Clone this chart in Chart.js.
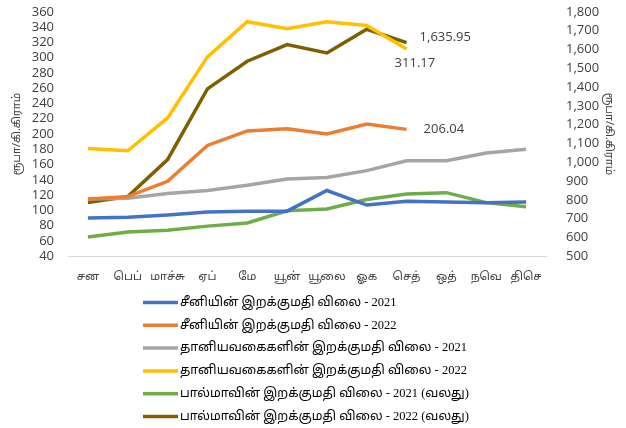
<!DOCTYPE html>
<html><head><meta charset="utf-8">
<script src="https://cdn.jsdelivr.net/npm/chart.js@4/dist/chart.umd.min.js"></script>
<style>html,body{margin:0;padding:0;background:#fff;overflow:hidden}#wrap{width:626px;height:428px;position:relative;overflow:hidden}#c{position:absolute;left:0;top:-8px}</style>
</head><body><div id="wrap"><canvas id="c" width="626" height="436"></canvas></div>
<script>
const months = ['சன','பெப்','மாச்சு','ஏப்','மே','யூன்','யூலை','ஓக','செத்','ஒத்','நவெ','திசெ'];
const sugar2021 = [90,91,94,98,99,99,126,107,112,111,110,111];
const sugar2022 = [115,118,138,185,204,207,200,213,206.04,null,null,null];
const cereal2021 = [115,116,122,126,133,141,143,152,165,165,175,180];
const cereal2022 = [181,178,221,301,347,338,347,342,311.17,null,null,null];
const palm2021 = [602,629,638,660,677,742,751,802,831,838,785,763];
const palm2022 = [786,817,1014,1390,1537,1626,1581,1707,1635.95,null,null,null];
const leftTicks = {min:40,max:360,step:20};
const rightTicks = {min:500,max:1800,step:100};
const labels = ['சீனியின் இறக்குமதி விலை - 2021','சீனியின் இறக்குமதி விலை - 2022','தானியவகைகளின் இறக்குமதி விலை - 2021','தானியவகைகளின் இறக்குமதி விலை - 2022','பால்மாவின் இறக்குமதி விலை - 2021 (வலது)','பால்மாவின் இறக்குமதி விலை - 2022 (வலது)'];
const axisTitle = 'ரூபா/கி.கிராம்';
const colors = ['#4472C4','#ED7D31','#A5A5A5','#FFC000','#70AD47','#7F6000'];

const tamil = '"Noto Sans Tamil","Lohit Tamil","Latha"';
const tickFont = {family:'"Open Sans",'+tamil+', sans-serif', size:13};
const xFont = {family:'"Open Sans",'+tamil+', sans-serif', size:11.5};
const ds = (i,data,axis)=>({label:labels[i],data,yAxisID:axis,borderColor:colors[i],backgroundColor:colors[i],borderWidth:3.5,pointRadius:0,tension:0,fill:false,spanGaps:false});

const legendPlugin = {
  id:'customLegend',
  afterDraw(chart){
    const ctx = chart.ctx; ctx.save();
    chart.data.datasets.forEach((d,i)=>{
      const y = 310.5 + i*22.8;
      ctx.strokeStyle = d.borderColor; ctx.lineWidth = 3.5;
      ctx.beginPath(); ctx.moveTo(143,y); ctx.lineTo(178,y); ctx.stroke();
      ctx.fillStyle = '#000'; ctx.font = '12.5px "Liberation Serif",'+tamil+', serif';
      ctx.textBaseline = 'middle'; ctx.textAlign='left';
      ctx.fillText(d.label, 180, y);
    });
    ctx.restore();
  }
};
const valueLabels = [{ds:5,dx:13,dy:-5,align:'left'},{ds:3,dx:-12,dy:14,align:'left'},{ds:1,dx:17,dy:0,align:'left'}];
const labelPlugin = {
  id:'lastLabels',
  afterDatasetsDraw(chart){
    const ctx = chart.ctx; ctx.save();
    ctx.font = '13px "Open Sans", sans-serif'; ctx.fillStyle='#404040'; ctx.textBaseline='middle';
    valueLabels.forEach(l=>{
      const d = chart.data.datasets[l.ds].data; const idx = 8;
      const el = chart.getDatasetMeta(l.ds).data[idx];
      const v = d[idx];
      const txt = v.toLocaleString('en-US',{minimumFractionDigits:2,maximumFractionDigits:2});
      ctx.textAlign = l.align;
      ctx.fillText(txt, el.x + l.dx, el.y + l.dy);
    });
    ctx.restore();
  }
};

new Chart(document.getElementById('c'),{
  type:'line',
  data:{labels:months,datasets:[ds(0,sugar2021,'y'),ds(1,sugar2022,'y'),ds(2,cereal2021,'y'),ds(3,cereal2022,'y'),ds(4,palm2021,'y1'),ds(5,palm2022,'y1')]},
  options:{
    responsive:false,animation:false,
    layout:{padding:{top:0,bottom:138,left:10,right:10}},
    plugins:{legend:{display:false},tooltip:{enabled:false}},
    scales:{
      x:{offset:true,grid:{display:false},border:{display:true,color:'#D9D9D9',width:1},
         ticks:{color:'#404040',font:xFont,padding:6,maxRotation:0,autoSkip:false}},
      y:{position:'left',min:leftTicks.min,max:leftTicks.max,grid:{display:false},border:{display:false},
         ticks:{stepSize:leftTicks.step,autoSkip:false,color:'#404040',font:tickFont,padding:6},
         title:{display:true,text:axisTitle,color:'#404040',font:{family:tickFont.family,size:11},padding:0},
         afterFit(s){s.width=58;}},
      y1:{position:'right',min:rightTicks.min,max:rightTicks.max,grid:{display:false},border:{display:false},
         ticks:{stepSize:rightTicks.step,autoSkip:false,color:'#404040',font:tickFont,padding:12,callback:v=>v.toLocaleString('en-US')},
         title:{display:true,text:axisTitle,color:'#404040',font:{family:tickFont.family,size:11},padding:0},
         afterFit(s){s.width=70;}}
    }
  },
  plugins:[legendPlugin,labelPlugin]
});
</script></body></html>
